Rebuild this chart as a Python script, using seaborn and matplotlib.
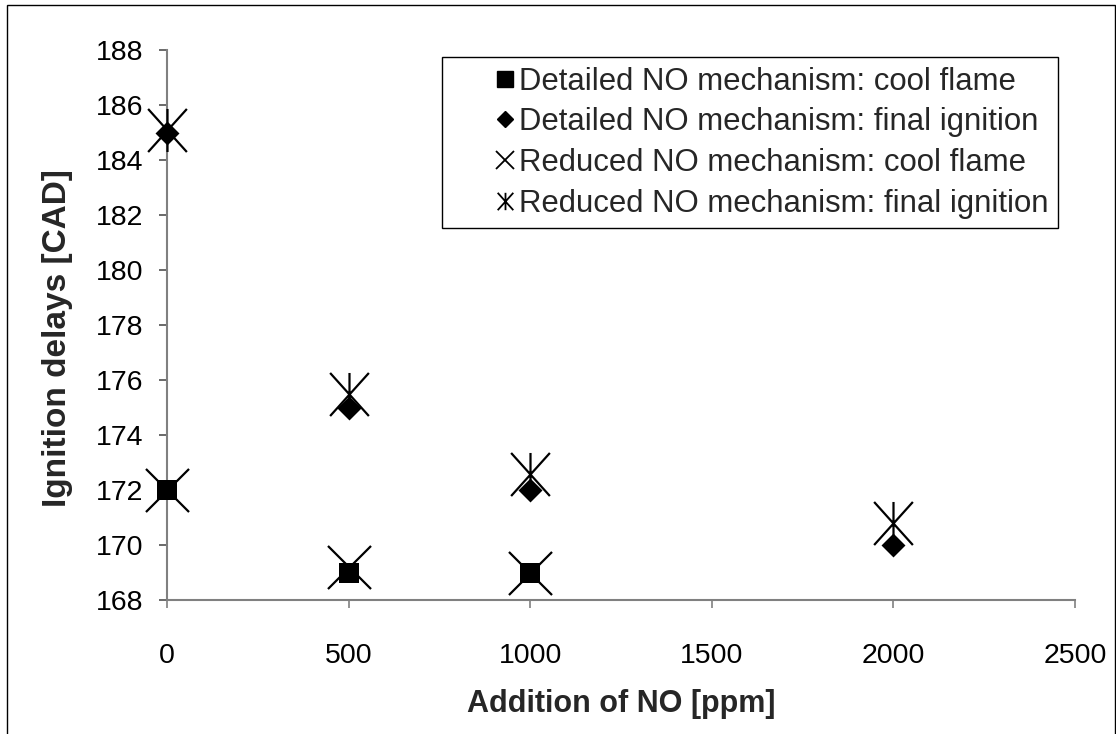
import matplotlib
matplotlib.use("Agg")
import matplotlib.pyplot as plt
from matplotlib.path import Path
from matplotlib.lines import Line2D
from matplotlib.patches import Rectangle
from matplotlib.legend_handler import HandlerLine2D
import pandas as pd
import seaborn as sns

# Ignition delay data [CAD] versus NO addition [ppm]
no_detailed_cool = [0, 500, 1000]
delay_detailed_cool = [172, 169, 169]
no_detailed_final = [0, 500, 1000, 2000]
delay_detailed_final = [185, 175, 172, 170]
no_reduced_cool = [0, 500, 1000]
delay_reduced_cool = [172, 169.2, 169]
no_reduced_final = [0, 500, 1000, 2000]
delay_reduced_final = [185.1, 175.5, 172.6, 170.8]

series_labels = [
    "Detailed NO mechanism: cool flame",
    "Detailed NO mechanism: final ignition",
    "Reduced NO mechanism: cool flame",
    "Reduced NO mechanism: final ignition",
]
x_ticks = [0, 500, 1000, 1500, 2000, 2500]
y_ticks = [168, 170, 172, 174, 176, 178, 180, 182, 184, 186, 188]

sns.set_theme(style="white")
plt.rcParams["font.family"] = ["Liberation Sans", "DejaVu Sans"]

# asterisk: an "x" with a vertical stroke through it
asterisk = Path(
    [(-0.9, -1), (0.9, 1), (-0.9, 1), (0.9, -1), (0, -1), (0, 1)],
    [Path.MOVETO, Path.LINETO, Path.MOVETO, Path.LINETO, Path.MOVETO, Path.LINETO],
)


class RightMarkerHandler(HandlerLine2D):
    """Legend handler that puts the single marker at the right end of the handle box."""

    def get_xdata(self, legend, xdescent, ydescent, width, height, fontsize):
        m = width - xdescent - 0.25 * fontsize
        return [m - 0.5, m + 0.5], [m]


fig = plt.figure(figsize=(11.16, 7.34), dpi=100)
ax = fig.add_axes([167 / 1116, 1 - 600 / 734, (1075 - 167) / 1116, (600 - 50) / 734])

frames = {
    "rc": pd.DataFrame({"x": no_reduced_cool, "y": delay_reduced_cool}),
    "rf": pd.DataFrame({"x": no_reduced_final, "y": delay_reduced_final}),
    "dc": pd.DataFrame({"x": no_detailed_cool, "y": delay_detailed_cool}),
    "df": pd.DataFrame({"x": no_detailed_final, "y": delay_detailed_final}),
}

sns.scatterplot(data=frames["rc"], x="x", y="y", ax=ax, marker="x", s=31 ** 2,
                color="black", linewidth=1.6, zorder=3, legend=False, clip_on=False)
sns.scatterplot(data=frames["rf"], x="x", y="y", ax=ax, marker=asterisk, s=31 ** 2,
                color="black", edgecolor="black", linewidth=1.6, zorder=3,
                legend=False, clip_on=False)
sns.scatterplot(data=frames["dc"], x="x", y="y", ax=ax, marker="s", s=14.6 ** 2,
                color="black", edgecolor="black", linewidth=0, zorder=4,
                legend=False, clip_on=False)
sns.scatterplot(data=frames["df"], x="x", y="y", ax=ax, marker="D", s=12.2 ** 2,
                color="black", edgecolor="black", linewidth=0, zorder=4,
                legend=False, clip_on=False)

ax.set_xlim(0, 2500)
ax.set_ylim(168, 188)
ax.set_xticks(x_ticks)
ax.set_yticks(y_ticks)
ax.set_xticklabels([str(v) for v in x_ticks])
ax.set_yticklabels([str(v) for v in y_ticks])

for side in ["top", "right"]:
    ax.spines[side].set_visible(False)
for side in ["left", "bottom"]:
    ax.spines[side].set_color("#808080")
    ax.spines[side].set_linewidth(1.5)
    ax.spines[side].set_zorder(1)

ax.tick_params(axis="x", direction="out", length=6, width=1.2, color="#808080",
               labelsize=20.5, pad=25, labelcolor="black", bottom=True)
ax.tick_params(axis="y", direction="out", length=6, width=1.2, color="#505050",
               labelsize=20.5, pad=11, labelcolor="black", left=True)

ax.set_xlabel("Addition of NO [ppm]", fontsize=22, fontweight="bold")
ax.set_ylabel("Ignition delays [CAD]", fontsize=24, fontweight="bold")
ax.xaxis.set_label_coords(0.5, -0.162)
ax.yaxis.set_label_coords(-0.104, 0.476)

handles = [
    Line2D([], [], linestyle="none", marker="s", markersize=11, color="black"),
    Line2D([], [], linestyle="none", marker="D", markersize=8.3, color="black"),
    Line2D([], [], linestyle="none", marker="x", markersize=12.5, color="black",
           markeredgewidth=1.3),
    Line2D([], [], linestyle="none", marker=asterisk, markersize=12.5, color="black",
           markeredgewidth=1.3),
]
leg = ax.legend(handles, series_labels, loc="upper right",
                bbox_to_anchor=(0.981, 0.987), borderaxespad=0, fontsize=22.4,
                frameon=True, fancybox=False, edgecolor="black", framealpha=1,
                handlelength=1.96, handletextpad=0.18, labelspacing=0.34,
                borderpad=0.31,
                handler_map={Line2D: RightMarkerHandler(numpoints=1)})
leg.get_frame().set_linewidth(1.0)

# outer chart border
fig.patches.append(Rectangle((7 / 1116, -0.1), (1115 - 7) / 1116, 1.1 - 5 / 734,
                             transform=fig.transFigure, fill=False,
                             edgecolor="black", linewidth=1.0))

fig.savefig("out.png", dpi=100, facecolor="white")
